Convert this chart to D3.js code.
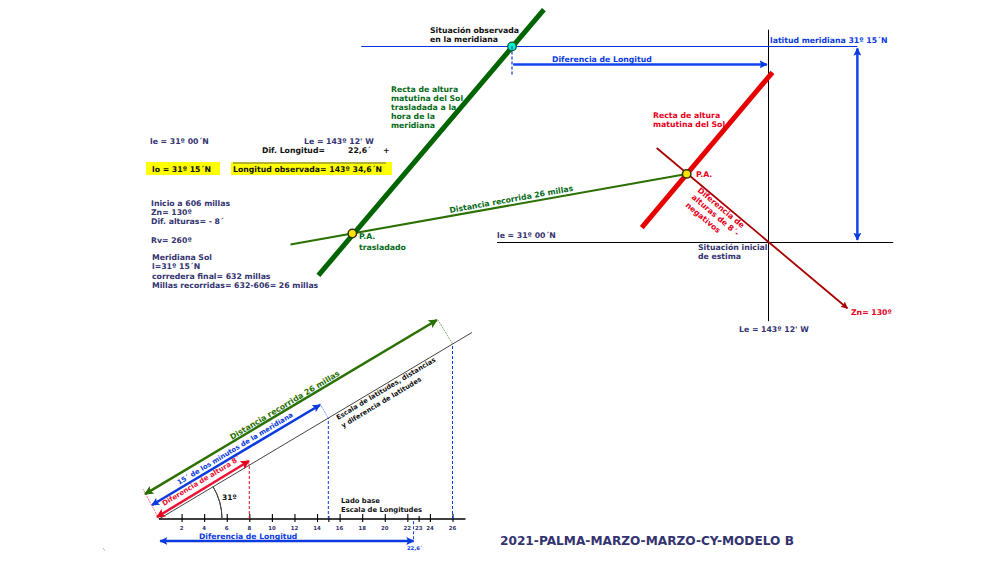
<!DOCTYPE html>
<html>
<head>
<meta charset="utf-8">
<script src="https://cdn.jsdelivr.net/npm/d3@7"></script>
<style>
html, body { margin: 0; background: #fff; }
text { font-family: "DejaVu Sans", Verdana, sans-serif; font-weight: bold; }
</style>
</head>
<body>
<svg id="chart" width="1000" height="563"></svg>
<script>
// Plotting sheet values, in minutes from the estimated position [lon W, lat N]
var paEstimated = [7.21, 5.25];
var paMoved = [36.67, 0.69];
var observed = [22.6, 15];
var sunLine = [[-0.35, 13.02], [11.17, 1.14]];
var movedLine = [[19.79, 17.82], [39.66, -2.51]];
var azimuthLine = [[9.85, 7.23], [-6.95, -5.03]];
var courseLine = [[42.12, -0.15], [7.21, 5.25]];
var meridianV = [[0, 16.29], [0, -6.02]];
var parallelH = [[23.92, 0], [-10.99, 0]];
var meridianH = [[35.88, 15], [-7.83, 15]];
var latArrow = [[-7.83, 14.85], [-7.83, 0.2]];
var lonArrow = [[22.5, 13.63], [0.15, 13.63]];
var lonDrop = [[22.6, 15], [22.6, 12.72]];

// Triangle values, in miles [along base, up]
var baseTicks = [2, 4, 6, 8, 10, 12, 14, 15, 16, 18, 20, 22, 23, 24, 26];
var baseLabels = [2, 4, 6, 8, 10, 12, 14, 16, 18, 20, 22, 23, 24, 26];
var baseEnd = 27.15;
var hypotenuse = [[0, 0], [27.72, 16.52]];
var greenArrow = [[-1.24, 2.21], [24.62, 17.63]];
var blueArrow = [[-0.62, 1.24], [14.26, 10.1]];
var redArrow = [[-0.18, 0.18], [7.97, 5.14]];
var drops = [[8, 4.78, "#dd1122"], [15, 8.94, "#0a3ae0"], [26, 15.5, "#0a3ae0"]];
var ties = [[[26, 15.5], [24.72, 17.63], "#4a8a20"], [[15, 8.94], [14.2, 10.3], "#3a6ae0"], [[8, 4.78], [7.75, 5.3], "#dd1122"], [[0, 0], [-1.42, 2.66], "#ee3344"]];
var strayMark = [[-4.96, -2.57], [-4.78, -2.83]];
var lonMark = 22.55;
var angleDeg = 31;

var navy = "#333370", green = "#056a18", red = "#e8001a", blue = "#0a3ae0", black = "#111";

var svg = d3.select("#chart");
var mainX = d3.scaleLinear().domain([0, 22.6]).range([768.5, 512]);
var mainY = d3.scaleLinear().domain([0, 15]).range([242.5, 46.5]);
var triX = d3.scaleLinear().domain([0, 26]).range([159, 452.5]);
var triY = d3.scaleLinear().domain([0, 26]).range([519, 225.5]);

var mainLine = d3.line().x(function(d) { return mainX(d[0]) }).y(function(d) { return mainY(d[1]) });
var triLine = d3.line().x(function(d) { return triX(d[0]) }).y(function(d) { return triY(d[1]) });

// Arrow heads ---------------------------------------
var defs = svg.append("defs");
function head(id, color, size) {
  defs.append("marker").attr("id", id).attr("viewBox", "0 0 10 10")
    .attr("refX", 9).attr("refY", 5)
    .attr("markerWidth", size).attr("markerHeight", size)
    .attr("markerUnits", "userSpaceOnUse")
    .attr("orient", "auto-start-reverse")
    .append("path").attr("d", "M0,0L10,5L0,10L2,5Z").attr("fill", color);
}
head("hBlue", blue, 8);
head("hRed", red, 9);
head("hDark", "#a80000", 7);
head("hGreen", "#2b7000", 9);

function draw(gen, pts, color, width, opts) {
  opts = opts || {};
  return svg.append("path").attr("d", gen(pts)).attr("fill", "none")
    .attr("stroke", color).attr("stroke-width", width)
    .attr("stroke-dasharray", opts.dash || null)
    .attr("marker-start", opts.start ? "url(#" + opts.start + ")" : null)
    .attr("marker-end", opts.end ? "url(#" + opts.end + ")" : null);
}

function note(x, y, lines, color, size, step, rotate) {
  var g = svg.append("g").attr("transform", "translate(" + x + "," + y + ")" + (rotate ? " rotate(" + rotate + ")" : ""));
  g.selectAll("text").data(lines).enter().append("text")
    .attr("y", function(d, i) { return i * (step || 9) })
    .attr("fill", color).attr("font-size", size || 7.75)
    .text(function(d) { return d });
}

// Yellow boxes --------------------------------------
svg.append("rect").attr("x", 146).attr("y", 162).attr("width", 74).attr("height", 13).attr("fill", "#ffff00");
svg.append("rect").attr("x", 231).attr("y", 162).attr("width", 161).attr("height", 13).attr("fill", "#ffff00");
svg.append("line").attr("x1", 233).attr("x2", 386).attr("y1", 163).attr("y2", 163).attr("stroke", "#666").attr("stroke-width", 1);

// Plotting sheet ------------------------------------
draw(mainLine, meridianV, "#000", 1);
draw(mainLine, parallelH, "#000", 1);
draw(mainLine, meridianH, "#0033dd", 1);
draw(mainLine, courseLine, "#2b7000", 2);
draw(mainLine, azimuthLine, "#a80000", 1.8, { end: "hDark" });
draw(mainLine, sunLine, "#e60000", 5);
draw(mainLine, movedLine, "#006400", 5);
draw(mainLine, latArrow, "#1144ee", 2.5, { start: "hBlue", end: "hBlue" });
draw(mainLine, lonArrow, "#1144ee", 2.5, { end: "hBlue" });

svg.append("circle").attr("cx", mainX(observed[0])).attr("cy", mainY(observed[1])).attr("r", 4.3)
  .attr("fill", "#00f0c8").attr("stroke", "#0a5a30").attr("stroke-width", 1.2);
draw(mainLine, lonDrop, "#0033dd", 1.2, { dash: "3,2" });
[paEstimated, paMoved].forEach(function(p) {
  svg.append("circle").attr("cx", mainX(p[0])).attr("cy", mainY(p[1])).attr("r", 4.2)
    .attr("fill", "#ffe600").attr("stroke", "#333300").attr("stroke-width", 1.5);
});

// Triangle ------------------------------------------
draw(triLine, hypotenuse, "#444", 1);

var axis = d3.axisBottom(triX).tickValues(baseTicks).tickSizeOuter(0).tickSizeInner(3).tickFormat("");
var axisG = svg.append("g").attr("transform", "translate(0," + triY(0) + ")").call(axis);
axisG.select(".domain").remove();
axisG.selectAll("line").attr("y1", function(d) { return d === 23 || d === 15 ? -3 : -5 }).attr("stroke", "#000").attr("stroke-width", 1.1);
draw(triLine, [[0, 0], [baseEnd, 0]], "#000", 1.3);

drops.forEach(function(d) {
  draw(triLine, [[d[0], 0], [d[0], d[1]]], d[2], 1, { dash: "3,2" });
});
ties.forEach(function(d) {
  draw(triLine, [d[0], d[1]], d[2], 0.7, { dash: "2,1" });
});
draw(triLine, strayMark, "#aaa", 0.8);
draw(triLine, greenArrow, "#2b7000", 2.5, { start: "hGreen", end: "hGreen" });
draw(triLine, blueArrow, "#0a3ae0", 2.5, { start: "hBlue", end: "hBlue" });
draw(triLine, redArrow, "#ee1133", 2.5, { start: "hRed", end: "hRed" });
draw(triLine, [[0.1, -1.95], [lonMark, -1.95]], "#0a3ae0", 2.5, { start: "hBlue", end: "hBlue" });
draw(triLine, [[lonMark, -0.2], [lonMark, -2]], "#0a3ae0", 1, { dash: "3,2" });

var arc = d3.arc().innerRadius(63).outerRadius(63)
  .startAngle((90 - angleDeg) * Math.PI / 180).endAngle(Math.PI / 2);
svg.append("path").attr("d", arc()).attr("transform", "translate(" + triX(0) + "," + triY(0) + ")")
  .attr("fill", "none").attr("stroke", "#444").attr("stroke-width", 1);

svg.selectAll(".base-label").data(baseLabels).enter().append("text")
  .attr("class", "base-label")
  .attr("x", function(d) { return triX(d) })
  .attr("y", 530).attr("text-anchor", "middle")
  .attr("fill", navy).attr("font-size", 5.4)
  .text(function(d) { return d });

// Texts ---------------------------------------------
note(150, 144, ["le = 31º 00´N"], navy);
note(304, 144, ["Le = 143º 12' W"], navy);
note(262, 153, ["Dif. Longitud="], black);
note(348, 153, ["22,6´"], black);
note(383, 153, ["+"], black);
note(152, 172, ["lo = 31º 15´N"], black);
note(233, 172, ["Longitud observada= 143º 34,6´N"], "#111");
note(151, 206, ["Inicio a 606 millas", "Zn= 130º", "Dif. alturas= - 8´"], navy);
note(151, 243, ["Rv= 260º"], navy);
note(152, 260, ["Meridiana Sol", "l=31º 15´N"], navy);
note(152, 279, ["corredera final= 632 millas", "Millas recorridas= 632-606= 26 millas"], navy);

note(430, 33, ["Situación observada", "en la meridiana"], black);
note(391, 92, ["Recta de altura", "matutina del Sol", "trasladada a la", "hora de la", "meridiana"], green);
note(552, 62, ["Diferencia de Longitud"], blue);
note(770, 43, ["latitud meridiana 31º 15´N"], blue);
note(653, 118, ["Recta de altura", "matutina del Sol"], red);
note(696, 177, ["P.A."], red);
note(697, 191, ["Diferencia de"], red, 7.75, 9, 40);
note(691, 198, ["alturas de 8´-"], red, 7.75, 9, 40);
note(685, 206, ["negativos"], red, 7.75, 9, 40);
note(698, 250, ["Situación inicial", "de estima"], navy);
note(497, 238, ["le = 31º 00´N"], navy);
note(851, 315, ["Zn= 130º"], red);
note(739, 332, ["Le = 143º 12' W"], navy);
note(359, 239, ["P.A."], green);
note(359, 250, ["trasladado"], green);
note(450, 213, ["Distancia recorrida 26 millas"], green, 7.75, 9, -10.2);

note(232, 440, ["Distancia recorrida 26 millas"], "#2b7000", 7.8, 9, -31);
note(179, 485, ["15´ de los minutos de la meridiana"], blue, 6.8, 9, -31);
note(164, 506, ["Diferencia de altura 8´"], "#ee1133", 7, 9, -31);
note(338, 420, ["Escala de latitudes, distancias"], black, 6.7, 9, -31);
note(343, 428, ["y diferencia de latitudes"], black, 6.7, 9, -31);
note(222, 500, ["31º"], black, 7.5);
note(341, 503, ["Lado base", "Escala de Longitudes"], black, 6.8, 8.5);
note(199, 539, ["Diferencia de Longitud"], blue, 7.65);
note(407, 550, ["22,6´"], blue, 5.2);
note(500, 545, ["2021-PALMA-MARZO-MARZO-CY-MODELO B"], navy, 12.17);
</script>
</body>
</html>
